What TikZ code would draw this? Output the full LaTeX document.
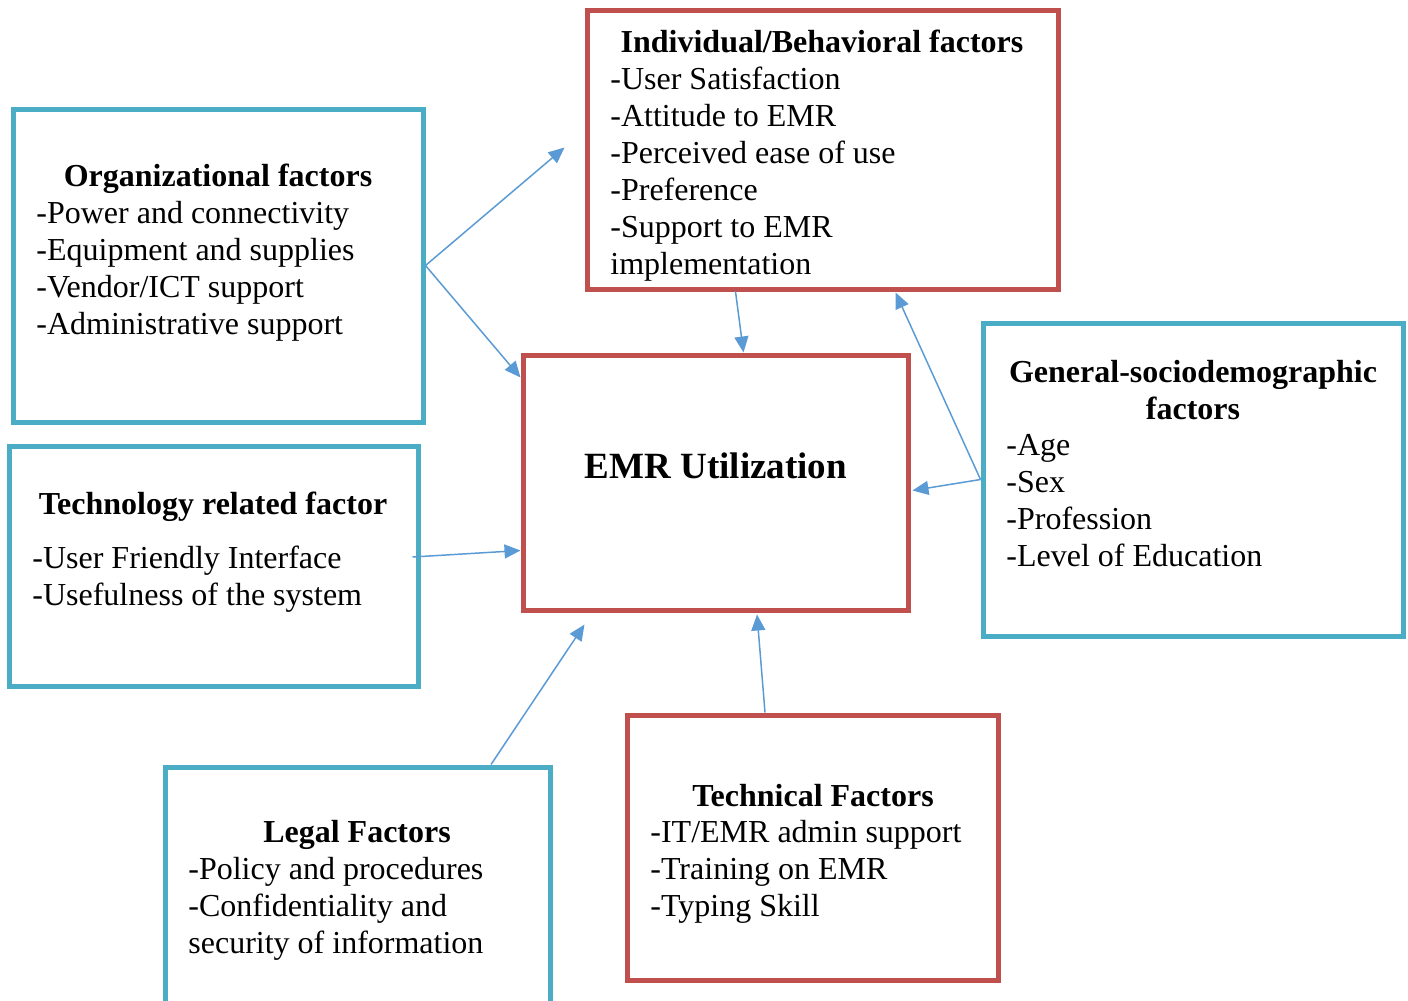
\documentclass[tikz,border=0pt]{standalone}
\usepackage{fontspec}
\setmainfont{Liberation Serif}
\usetikzlibrary{arrows.meta,calc}

\definecolor{boxcyan}{HTML}{4BACC6}
\definecolor{boxred}{HTML}{C0504D}
\definecolor{arrowblue}{HTML}{5B9BD5}

\begin{document}
\begin{tikzpicture}[
    x=0.5pt, y=-0.5pt,
    cbox/.style={rectangle, draw=boxcyan, line width=2.5pt},
    rbox/.style={rectangle, draw=boxred, line width=2.5pt},
    title/.style={inner sep=0pt, anchor=base, font=\fontsize{16}{18.5}\selectfont\bfseries},
    body/.style={inner sep=0pt, anchor=base west, align=left, font=\fontsize{16}{18.5}\selectfont},
    link/.style={draw=arrowblue, line width=0.75pt, -{Triangle[length=8pt, width=7pt]}}
]

\useasboundingbox (0,0) rectangle (1408,1001);

% Boxes
\node[cbox, minimum width=205pt, minimum height=156.5pt] (org) at (218,265.5) {};
\node[rbox, minimum width=235.5pt, minimum height=139.5pt] (indiv) at (822.5,149.5) {};
\node[rbox, minimum width=192.5pt, minimum height=127.5pt] (emr) at (715.5,482.5) {};
\node[cbox, minimum width=204.5pt, minimum height=120pt] (tech) at (213.5,566) {};
\node[cbox, minimum width=210pt, minimum height=156.5pt] (socio) at (1193,479.5) {};
\node[cbox, minimum width=192.5pt, minimum height=121.5pt] (legal) at (357.5,888.5) {};
\node[rbox, minimum width=185.5pt, minimum height=132.5pt] (technical) at (812.5,847.5) {};

% Texts (multi-line nodes sit on their last baseline)
\node[title] (orgtitle) at (218,186) {Organizational factors};
\node[body] (orgtext) at (36,334) {-Power and connectivity\\-Equipment and supplies\\-Vendor/ICT support\\-Administrative support};

\node[title] (indivtitle) at (822,53) {Individual/Behavioral factors};
\node[body] (indivtext) at (610,274) {-User Satisfaction\\-Attitude to EMR\\-Perceived ease of use\\-Preference\\-Support to EMR\\implementation};

\node[title, font=\fontsize{18.5}{22}\selectfont\bfseries] (emrtitle) at (716,478) {EMR Utilization};

\node[title] (techtitle) at (213,514) {Technology related factor};
\node[body] (techtext) at (32,605) {-User Friendly Interface\\-Usefulness of the system};

\node[title, align=center] (sociotitle) at (1193,419) {General-sociodemographic\\factors};
\node[body] (sociotext) at (1006,566) {-Age\\-Sex\\-Profession\\-Level of Education};

\node[title] (legaltitle) at (357,842) {Legal Factors};
\node[body] (legaltext) at (188,953) {-Policy and procedures\\-Confidentiality and\\security of information};

\node[title] (technicaltitle) at (813,806) {Technical Factors};
\node[body] (technicaltext) at (650,916) {-IT/EMR admin support\\-Training on EMR\\-Typing Skill};

% Arrows
\draw[link] (org.east) -- ($(indiv.north west)+(-20,140)$);
\draw[link] (org.east) -- ($(emr.north west)+(0,25)$);
\draw[link] ($(indiv.south west)+(151,0)$) -- ($(emr.north west)+(223,0)$);
\draw[link] (socio.west) -- ($(indiv.south east)+(-165,1)$);
\draw[link] (socio.west) -- ($(emr.east)+(2,8)$);
\draw[link] ($(tech.east)+(-8,-9)$) -- ($(emr.south west)+(0,-62)$);
\draw[link] ($(legal.north)+(133.5,0)$) -- ($(emr.south west)+(64,12)$);
\draw[link] ($(technical.north)+(-47.5,0)$) -- ($(emr.south)+(41.5,2)$);

\end{tikzpicture}
\end{document}
